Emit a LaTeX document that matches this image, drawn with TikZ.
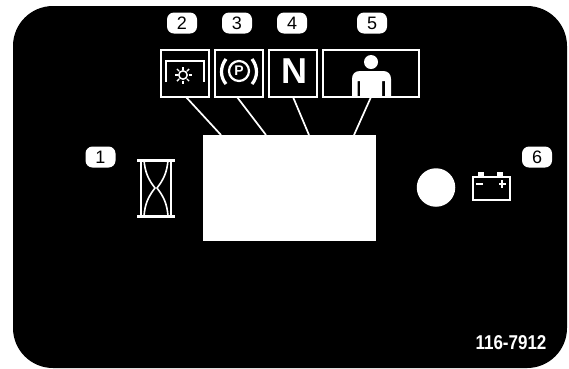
\documentclass[tikz,border=0pt]{standalone}
\usepackage{fontspec}
\setmainfont{Liberation Sans}
\tikzset{
  x=1pt,y=-1pt,
  tag/.style={fill=white,rounded corners=7pt,minimum width=30pt,minimum height=21pt,inner sep=0pt,text=black,font=\fontsize{18}{18}\selectfont},
  frame/.style={draw=white,line width=2pt,inner sep=0pt,minimum height=47pt},
  link/.style={draw=white,line width=1.7pt},
  icon/.style={white,line width=2pt},
  glass/.style={white,line width=1.6pt}
}
\begin{document}
\begin{tikzpicture}
\useasboundingbox (0,0) rectangle (569,368);
\fill[white] (0,0) rectangle (569,368);
\fill[black,rounded corners=40pt] (13,6) rectangle (567,368);

\node[fill=white,inner sep=0pt,minimum width=173pt,minimum height=106pt] (screen) at (289.5,188) {};
\node[frame,minimum width=48pt] (b2) at (185,73) {};
\node[frame,minimum width=48pt] (b3) at (239,73) {};
\node[frame,minimum width=48pt] (b4) at (293,73) {};
\node[frame,minimum width=96pt] (b5) at (370.5,73) {};

\node[tag] (t1) at (100.5,157) {1};
\node[tag] (t2) at (182,23) {2};
\node[tag] (t3) at (237,23) {3};
\node[tag] (t4) at (292,23) {4};
\node[tag] (t5) at (372,23) {5};
\node[tag] (t6) at (537,157) {6};

\coordinate (s2) at (221,135);
\coordinate (s3) at (266,135);
\coordinate (s4) at (309,135);
\coordinate (s5) at (354,135);
\coordinate (f2) at (186,97);
\coordinate (f3) at (237,97);
\coordinate (f4) at (293,97);
\coordinate (f5) at (371,97);
\draw[link] (f2) -- (s2);
\draw[link] (f3) -- (s3);
\draw[link] (f4) -- (s4);
\draw[link] (f5) -- (s5);

% icon 2
\draw[icon] (166,82) -- (166,61) -- (204,61) -- (204,82);
\draw[white,line width=1.5pt] (183,75) circle (4.2);
\foreach \a in {0,45,...,315}
  \draw[white,line width=1.4pt] (183,75) ++(\a:5.5) -- ++(\a:3);
% icon 3
\draw[white,line width=2.2pt] (239,71) circle (10);
\node[text=white,inner sep=0pt,font=\bfseries\fontsize{14}{14}\selectfont] (pl) at (239,71) {P};
\draw[white,line width=3.2pt] (226,59) .. controls (220,67) and (220,77) .. (226,84);
\draw[white,line width=3.2pt] (252,59) .. controls (258,67) and (258,77) .. (252,84);
% icon 4
\node[text=white,inner sep=0pt,font=\bfseries\fontsize{36}{36}\selectfont] (nl) at (294,71) {N};
% icon 5
\fill[white] (371,62) circle (7);
\fill[white] (352,97) -- (352,79) .. controls (352,74) and (355,71) .. (360,71) -- (383,71) .. controls (388,71) and (391,74) .. (391,79) -- (391,97) -- (385,97) -- (385,81) -- (382,81) -- (382,97) -- (360,97) -- (360,81) -- (357.5,81) -- (357.5,97) -- cycle;

% hourglass
\draw[white,line width=3pt] (137,160) -- (175,160);
\draw[white,line width=3pt] (137,216.5) -- (175,216.5);
\draw[glass] (141,160) -- (141,216);
\draw[glass] (171,160) -- (171,216);
\draw[glass] (144,160) .. controls (145,172) and (148,179) .. (155,188) .. controls (148,197) and (145,204) .. (144,216);
\draw[glass] (168,160) .. controls (167,172) and (164,179) .. (157,188) .. controls (164,197) and (167,204) .. (168,216);

% lamp
\node[circle,fill=white,minimum size=38.5pt,inner sep=0pt] (lamp) at (436,187.5) {};
% battery
\draw[icon] (472.5,176.5) rectangle (509.5,199.5);
\fill[white] (478,172) rectangle (484,177);
\fill[white] (497,172) rectangle (503,177);
\fill[white] (476,183) rectangle (483,185);
\fill[white] (498.5,183) rectangle (506,185);
\fill[white] (501.2,180.3) rectangle (503.2,187.7);

\node[text=white,inner sep=0pt,font=\bfseries\fontsize{20}{20}\selectfont] (code) at (511,342.5) {\scalebox{.85}[1]{116-7912}};
\end{tikzpicture}
\end{document}
